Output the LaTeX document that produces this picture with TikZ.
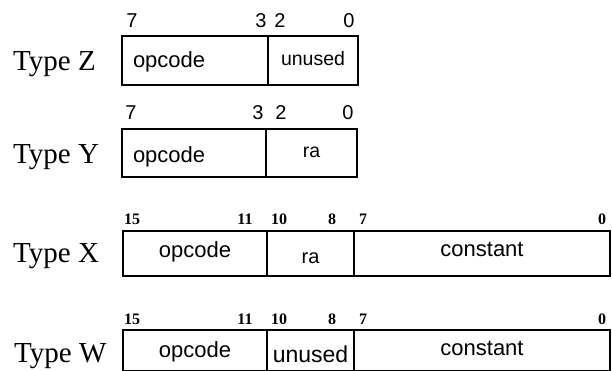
\documentclass[tikz,border=0pt]{standalone}
\usepackage{fontspec}
\setmainfont{Liberation Serif}
\setsansfont{Liberation Sans}
\usetikzlibrary{positioning}
\tikzset{
	field/.style    ={rectangle, draw=black, line width=1.6pt, anchor=north west, inner xsep=0pt, inner ysep=0pt, outer sep=0pt, align=center, text height=15pt, text depth=5pt, font=\sffamily\fontsize{22}{24}\selectfont},
	leftfield/.style={field, text width=#1, inner xsep=11pt, align=left},
	typelabel/.style={anchor=base west, inner sep=0pt, font=\fontsize{29}{32}\selectfont},
	bitbig/.style   ={anchor=base, inner sep=0pt, font=\sffamily\fontsize{20}{22}\selectfont},
	bitsmall/.style ={anchor=base, inner sep=0pt, font=\bfseries\fontsize{16}{18}\selectfont},
}
\begin{document}
\begin{tikzpicture}[x=1pt, y=-1pt]
	\useasboundingbox (0,0) rectangle (612,371);
	% type Z
	\node[typelabel] (tz) at (13,71) {Type Z};
	\node[leftfield=124pt, minimum width=146pt, minimum height=49pt, text height=20pt] (zop) at (122,36) {opcode};
	\node[field, minimum width=90pt, minimum height=49pt, font=\sffamily\fontsize{19.5}{21}\selectfont] (zun) at (zop.north east) {unused};
	\node[bitbig] (z7) at (132,28) {7};
	\node[bitbig] (z3) at (261,28) {3};
	\node[bitbig] (z2) at (280,28) {2};
	\node[bitbig] (z0) at (349,28) {0};
	% type Y
	\node[typelabel] (ty) at (13,164) {Type Y};
	\node[leftfield=122pt, minimum width=144pt, minimum height=48pt, text height=25pt] (yop) at (122,129) {opcode};
	\node[field, minimum width=91pt, minimum height=48pt, font=\sffamily\fontsize{19.5}{21}\selectfont] (yra) at (yop.north east) {ra};
	\node[bitbig] (y7) at (131,120) {7};
	\node[bitbig] (y3) at (258,120) {3};
	\node[bitbig] (y2) at (281,120) {2};
	\node[bitbig] (y0) at (348,120) {0};
	% type X
	\node[typelabel] (tx) at (13,262) {Type X};
	\node[field, minimum width=144pt, minimum height=45pt, text height=12pt] (xop) at (123,231) {opcode};
	\node[field, minimum width=87pt, minimum height=45pt, text height=24pt, font=\sffamily\fontsize{20}{22}\selectfont] (xra) at (xop.north east) {ra};
	\node[field, minimum width=256pt, minimum height=45pt, text height=10pt] (xcon) at (xra.north east) {constant};
	\foreach \n/\x in {15/132, 11/245, 10/279, 8/332, 7/363, 0/602}
		\node[bitsmall] (xb\n) at (\x,224) {\n};
	% type W
	\node[typelabel] (tw) at (14,362) {Type W};
	\node[field, minimum width=144pt, minimum height=41pt, text height=18pt] (wop) at (123,330) {opcode};
	\node[field, minimum width=87pt, minimum height=41pt, text height=28pt, font=\sffamily\fontsize{23}{25}\selectfont] (wun) at (wop.north east) {unused};
	\node[field, minimum width=256pt, minimum height=41pt] (wcon) at (wun.north east) {constant};
	\foreach \n/\x in {15/132, 11/245, 10/279, 8/332, 7/363, 0/602}
		\node[bitsmall] (wb\n) at (\x,324) {\n};
\end{tikzpicture}
\end{document}
